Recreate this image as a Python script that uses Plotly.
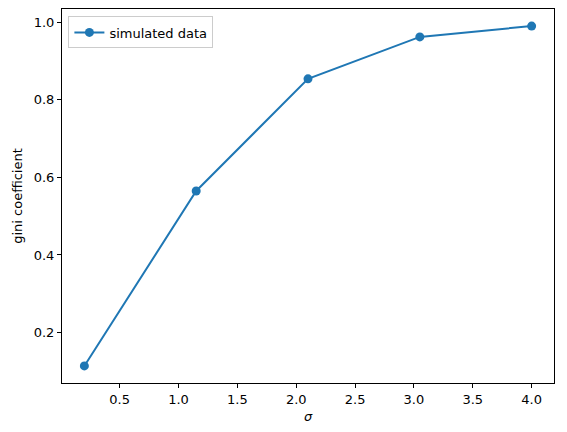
import plotly.graph_objects as go

sigma = [0.2, 1.15, 2.1, 3.05, 4.0]
gini = [0.114, 0.565, 0.854, 0.962, 0.990]

x_ticks = [0.5, 1.0, 1.5, 2.0, 2.5, 3.0, 3.5, 4.0]
y_ticks = [0.2, 0.4, 0.6, 0.8, 1.0]

blue = "#1f77b4"

fig = go.Figure()
fig.add_trace(
    go.Scatter(
        x=sigma,
        y=gini,
        mode="lines+markers",
        name="simulated data",
        line=dict(color=blue, width=2),
        marker=dict(color=blue, size=9),
    )
)

axis_style = dict(
    showline=True,
    linecolor="black",
    linewidth=1,
    mirror=True,
    showgrid=False,
    zeroline=False,
    ticks="outside",
    ticklen=4,
    tickwidth=1,
    tickcolor="black",
    tickfont=dict(size=13, color="black"),
)

fig.update_xaxes(
    range=[0.01, 4.19],
    tickvals=x_ticks,
    ticktext=[f"{v:.1f}" for v in x_ticks],
    title=dict(text="<i>σ</i>", font=dict(size=13, color="black"), standoff=6),
    **axis_style,
)
fig.update_yaxes(
    range=[0.070, 1.034],
    tickvals=y_ticks,
    ticktext=[f"{v:.1f}" for v in y_ticks],
    title=dict(text="gini coefficient", font=dict(size=13, color="black"), standoff=8),
    **axis_style,
)

fig.update_layout(
    width=567,
    height=432,
    margin=dict(l=62, r=13, t=9, b=49),
    paper_bgcolor="white",
    plot_bgcolor="white",
    font=dict(family="DejaVu Sans", size=13, color="black"),
    showlegend=True,
    legend=dict(
        x=0.013,
        y=0.98,
        xanchor="left",
        yanchor="top",
        bgcolor="rgba(255,255,255,0.8)",
        bordercolor="#cccccc",
        borderwidth=1,
        font=dict(size=13, color="black"),
    ),
)

# drop the default page margin so the figure sits at the window's corner
fig.write_html(
    "out.html",
    config={"displayModeBar": False},
    post_script="document.body.style.margin='0';",
)
